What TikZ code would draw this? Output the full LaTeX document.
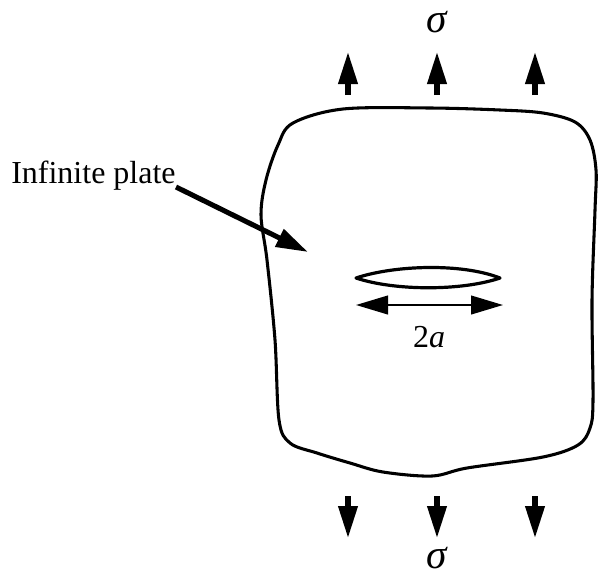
\documentclass[tikz,border=0pt]{standalone}
\usepackage{fontspec}
\setmainfont{Liberation Serif}
\usetikzlibrary{arrows.meta}
\begin{document}
\begin{tikzpicture}[x=0.75pt,y=-0.75pt,
  lbl/.style={inner sep=0pt,font=\fontsize{24}{29}\selectfont},
  sig/.style={inner sep=0pt,font=\fontsize{31}{36}\selectfont\itshape},
  bigtip/.style={-{Triangle[length=24pt,width=14pt]}},
  load/.style={bigtip,line width=3.8pt},
  outline/.style={line width=2.3pt,line join=round}]
\useasboundingbox (0,0) rectangle (598,575);
% plate outline
\draw[outline] plot[smooth cycle,tension=0.55] coordinates {
 (293,123) (343,109) (430,108) (500,110) (543,113) (575,122) (590,140)
 (596,170) (595,210) (592,300) (593,400) (590,428) (578,445) (543,457)
 (467,468) (432,476) (383,472) (350,463) (317,453) (290,443) (279,420)
 (275,340) (267,260) (261,215) (266,180) (278,145)};
% crack
\draw[line width=2.4pt,line join=round] (356,278) .. controls (395,265) and (462,263) .. (500,278)
  .. controls (462,291) and (395,291) .. cycle;
% dimension arrow
\coordinate (dl) at (356,305);
\coordinate (dr) at (503,305);
\draw[line width=1.6pt,{Triangle[length=24pt,width=14pt]}-{Triangle[length=24pt,width=14pt]}] (dl) -- (dr);
\node[lbl,anchor=base] (twoa) at (429,347) {2\textit{a}};
% label
\node[lbl,anchor=base west] (plate) at (11,183) {Infinite plate};
\coordinate (ptail) at (176,187);
\coordinate (ptip) at (308,252);
\draw[bigtip,line width=3.8pt] (ptail) -- (ptip);
% top loads
\node[sig] (sigtop) at (437,22) {σ};
\foreach \x/\n in {348/a,437/b,535/c}{
  \coordinate (t\n) at (\x,95);
  \coordinate (th\n) at (\x,52);
  \draw[load] (t\n) -- (th\n);
}
% bottom loads
\foreach \x/\n in {348/a,437/b,535/c}{
  \coordinate (b\n) at (\x,496);
  \coordinate (bh\n) at (\x,538);
  \draw[load] (b\n) -- (bh\n);
}
\node[sig] (sigbot) at (437,558) {σ};
\end{tikzpicture}
\end{document}
